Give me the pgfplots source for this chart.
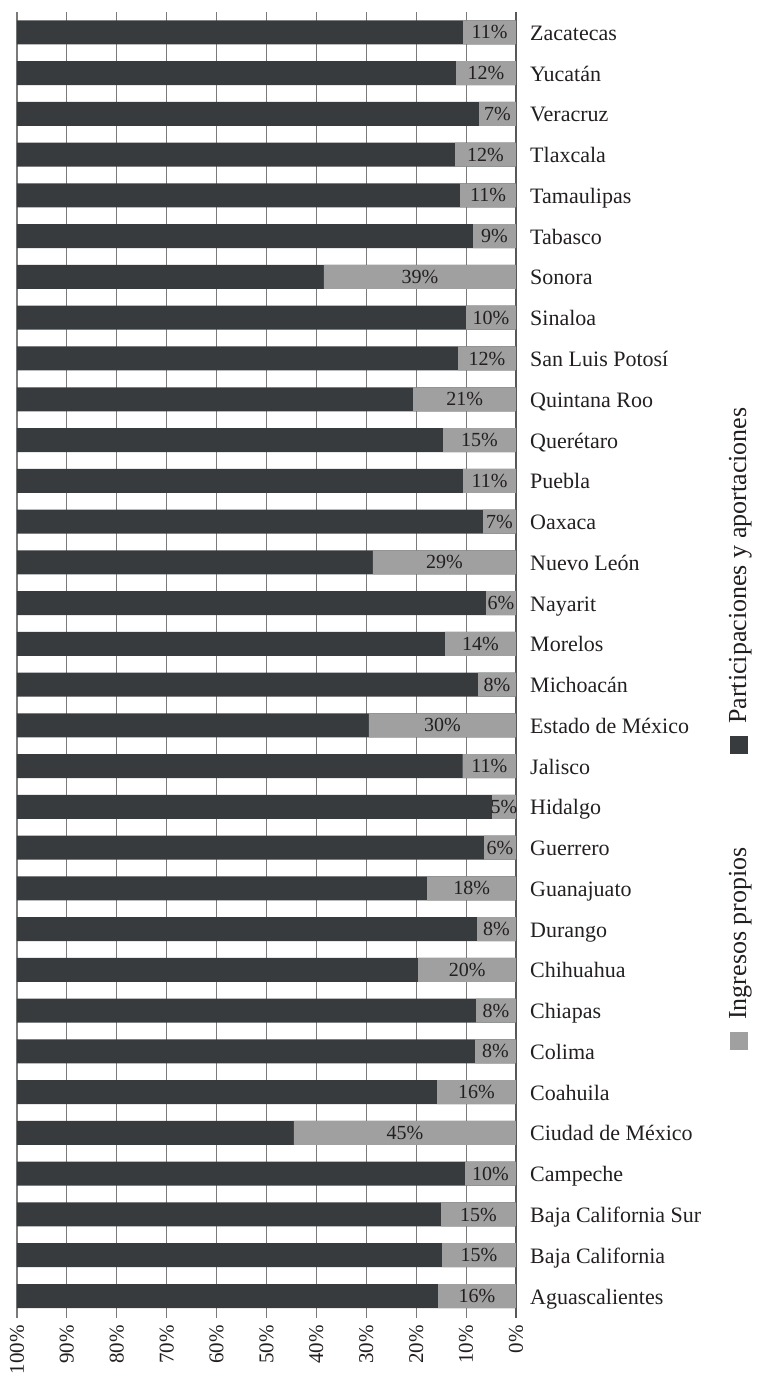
\documentclass[border=0pt]{standalone}
\usepackage{fontspec}
\setmainfont{Liberation Serif}
\usepackage{pgfplots}
\usepackage{pgfplotstable}
\pgfplotsset{compat=1.18}
\definecolor{darkbar}{HTML}{373B3E}
\definecolor{lightbar}{HTML}{A0A0A0}
\definecolor{txt}{HTML}{231F20}
\definecolor{gridc}{HTML}{7A7A7A}

% idx: 0 = Aguascalientes (bottom) ... 31 = Zacatecas (top)
% prop = ingresos propios (%), part = participaciones y aportaciones (%), lab = printed label
\pgfplotstableread{
idx prop part lab
0  15.6 84.4 16
1  14.8 85.2 15
2  15.0 85.0 15
3  10.2 89.8 10
4  44.5 55.5 45
5  15.8 84.2 16
6  8.2  91.8 8
7  8.0  92.0 8
8  19.6 80.4 20
9  7.8  92.2 8
10 17.8 82.2 18
11 6.4  93.6 6
12 4.8  95.2 5
13 10.7 89.3 11
14 29.5 70.5 30
15 7.6  92.4 8
16 14.2 85.8 14
17 6.0  94.0 6
18 28.7 71.3 29
19 6.6  93.4 7
20 10.6 89.4 11
21 14.6 85.4 15
22 20.6 79.4 21
23 11.6 88.4 12
24 10.0 90.0 10
25 38.5 61.5 39
26 8.6  91.4 9
27 11.2 88.8 11
28 12.2 87.8 12
29 7.4  92.6 7
30 12.0 88.0 12
31 10.6 89.4 11
}\datatable

\begin{document}
\begin{tikzpicture}
\path[use as bounding box] (0pt,0pt) rectangle (756pt,-1376pt);
\begin{axis}[
  at={(17pt,-1318pt)}, anchor=south west,
  scale only axis, width=499pt, height=1306pt,
  x dir=reverse, xmin=0, xmax=100, ymin=-0.54, ymax=31.5,
  enlargelimits=false,
  xtick={10,20,...,100},
  xticklabel={\pgfmathprintnumber{\tick}\%},
  extra x ticks={0},
  extra x tick style={grid style={draw=txt!75, line width=1.6pt}},
  extra x tick label={0\%},
  ytick={0,...,31},
  yticklabels={Aguascalientes, Baja California, Baja California Sur, Campeche, Ciudad de México, Coahuila, Colima, Chiapas, Chihuahua, Durango, Guanajuato, Guerrero, Hidalgo, Jalisco, Estado de México, Michoacán, Morelos, Nayarit, Nuevo León, Oaxaca, Puebla, Querétaro, Quintana Roo, San Luis Potosí, Sinaloa, Sonora, Tabasco, Tamaulipas, Tlaxcala, Veracruz, Yucatán, Zacatecas},
  yticklabel pos=right,
  major tick length=0pt,
  xmajorgrids, ymajorgrids=false,
  grid style={gridc, line width=1.1pt},
  axis line style={draw=none},
  /pgf/number format/assume math mode=true,
  xticklabel style={rotate=90, anchor=east, inner sep=0pt, font=\fontsize{21}{25}\selectfont, text=txt},
  xticklabel shift=7pt,
  yticklabel style={anchor=base west, inner sep=0pt, font=\fontsize{22}{26}\selectfont, text=txt, yshift=-8pt},
  yticklabel shift=14pt,
]
\addplot[xbar, bar width=24pt, bar shift=0pt, fill=darkbar, draw=none]
  table[x expr=\thisrow{prop}+\thisrow{part}, y=idx] {\datatable};
\addplot[xbar, bar width=24pt, bar shift=0pt, fill=lightbar, draw=none]
  table[x=prop, y=idx] {\datatable};
\addplot[draw=none, mark=none, point meta=explicit,
  nodes near coords={\pgfmathprintnumber{\pgfplotspointmeta}\%},
  every node near coord/.append style={anchor=center, inner sep=0pt, font=\fontsize{20}{24}\selectfont, text=txt}]
  table[x expr=\thisrow{prop}/2, y=idx, meta=lab] {\datatable};
\end{axis}
% rotated legend
\fill[lightbar] (730pt,-1032pt) rectangle (748pt,-1050pt);
\node[rotate=90, anchor=base west, inner sep=0pt, font=\fontsize{26}{30}\selectfont, text=txt] at (746pt,-1020pt) {Ingresos propios};
\fill[darkbar] (730pt,-736pt) rectangle (748pt,-754pt);
\node[rotate=90, anchor=base west, inner sep=0pt, font=\fontsize{26}{30}\selectfont, text=txt] at (746pt,-724pt) {Participaciones y aportaciones};
\end{tikzpicture}
\end{document}
